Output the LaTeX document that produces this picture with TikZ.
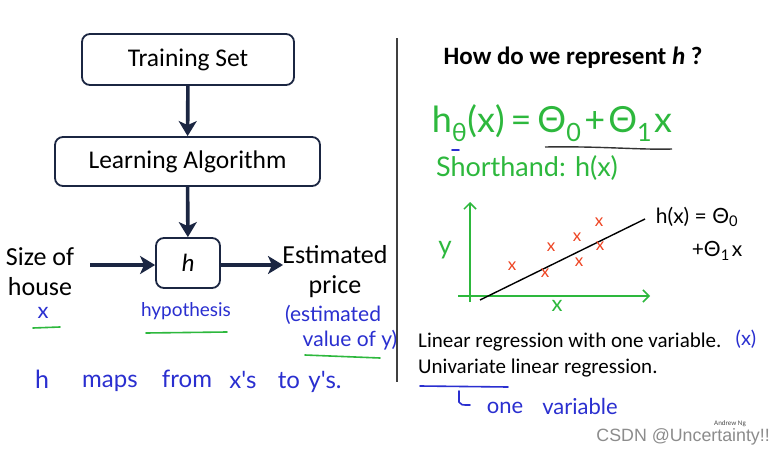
\documentclass[tikz,border=0pt]{standalone}
\usepackage{fontspec}
\setmainfont{Carlito}
\newfontfamily\handfont{Lato}
\newfontfamily\csdnfont{Liberation Sans}
\usetikzlibrary{arrows.meta}
\definecolor{navy}{HTML}{1B2642}
\definecolor{hgreen}{HTML}{2DB83D}
\definecolor{hblue}{HTML}{2A2FD0}
\definecolor{hred}{HTML}{EE4422}
\begin{document}
\begin{tikzpicture}[x=1pt,y=-1pt,
  box/.style={draw=navy, line width=1.8pt, rounded corners=8pt, fill=white, inner sep=0pt, font=\fontsize{25.5}{25.5}\selectfont},
  flow/.style={-{Stealth[length=15pt,width=18pt,inset=4pt]}, line width=3.6pt, draw=navy},
  label/.style={font=\fontsize{26}{30}\selectfont, align=center, inner sep=0pt},
  hand/.style={font=\handfont\fontsize{#1}{#1}\selectfont, inner sep=0pt},
  bluehand/.style={hand=#1, text=hblue},
  greenhand/.style={hand=#1, text=hgreen},
  gline/.style={draw=hgreen, line width=1.6pt, line cap=round},
  bline/.style={draw=hblue, line width=1.6pt, line cap=round},
  axis/.style={draw=hgreen, line width=1.5pt, -{Straight Barb[length=6pt,width=12pt]}},
  crossmark/.style={text=hred, font=\handfont\fontsize{17}{17}\selectfont, inner sep=0pt},
  body/.style={font=\fontsize{21}{21}\selectfont, anchor=west, inner sep=0pt}
]
\useasboundingbox (0,0) rectangle (782,455);
\fill[white] (0,0) rectangle (782,455);

% left flow chart
\node[box, minimum width=212pt, minimum height=51pt] (train) at (188,59.5) {Training Set};
\node[box, minimum width=265pt, minimum height=49pt] (learn) at (187.5,161.5) {Learning Algorithm};
\node[box, minimum width=64pt, minimum height=50pt, font=\fontsize{25}{25}\selectfont\itshape] (h) at (188,263) {h};
\node[label] (size) at (40,272) {Size of\\house};
\node[label] (est) at (335,272) {Estimated\\price};
\coordinate (inL) at (90,265);
\coordinate (outR) at (283,265);
\draw[flow] (train) -- (learn);
\draw[flow] (learn) -- (h);
\draw[flow] (inL) -- (h.west |- inL);
\draw[flow] (h.east |- outR) -- (outR);

% left handwriting
\node[bluehand=22, anchor=base] (xl) at (43,318) {x};
\draw[gline] (33,328) -- (60,327);
\node[bluehand=19] (hyp) at (186,311) {hypothesis};
\draw[gline] (146,333) -- (227,332);
\node[bluehand=21] (est1) at (333,315) {(estimated};
\node[bluehand=21] (est2) at (350,340) {value of y)};
\draw[gline] (305,355) -- (380,358);
\node[bluehand=25] (mh) at (42,379) {h};
\node[bluehand=24] (mmaps) at (110,383) {maps};
\node[bluehand=24] (mfrom) at (187,379) {from};
\node[bluehand=24] (mxs) at (243,380) {x's};
\node[bluehand=24] (mto) at (289,381) {to};
\node[bluehand=24] (mys) at (325,382) {y's.};

% divider
\draw[line width=1.3pt, draw=black!75] (397,38) -- (397,382);

% right side
\node[font=\bfseries\fontsize{25}{25}\selectfont, inner sep=0pt] (title) at (573,58) {How do we represent \textit{h} ?};
\node[greenhand=36] (formula) at (552,123) {h\textsubscript{θ}(x)\hspace{6pt}=\hspace{6pt}Θ\textsubscript{0}\hspace{3pt}+\hspace{3pt}Θ\textsubscript{1}\hspace{2pt}x};
\draw[line width=1.4pt, black!80] (545,147) .. controls (600,146) and (640,150) .. (672,149);
\draw[bline] (452,150) -- (459,150);
\node[greenhand=27] (short) at (527,168) {Shorthand: h(x)};

% graph
\coordinate (yb) at (470,302);
\coordinate (yt) at (470,202);
\coordinate (xa) at (458,296);
\coordinate (xb) at (650,296);
\draw[axis] (yb) -- (yt);
\draw[axis] (xa) -- (xb);
\node[greenhand=26] (ylab) at (445,250) {y};
\node[greenhand=22] (xlab) at (557,306) {x};
\coordinate (l1) at (480,300);
\coordinate (l2) at (645,219);
\draw[line width=1.4pt, black] (l1) -- (l2);
\node[crossmark] (c1) at (512,266) {x};
\node[crossmark] (c2) at (551,247) {x};
\node[crossmark] (c3) at (577,237) {x};
\node[crossmark] (c4) at (600,246) {x};
\node[crossmark] (c5) at (579,262) {x};
\node[crossmark] (c6) at (545,273) {x};
\node[crossmark] (c7) at (599,222) {x};
\node[hand=21, text=black] (hx1) at (697,217) {h(x) = Θ\textsubscript{0}};
\node[hand=21, text=black] (hx2) at (717,251) {+Θ\textsubscript{1}\hspace{2pt}x};

\node[body] (lin1) at (418,342) {Linear regression with one variable.};
\node[bluehand=20] (xpar) at (746,339) {(x)};
\node[body] (lin2) at (418,368) {Univariate linear regression.};
\draw[bline] (420,386) -- (508,387);
\draw[bline] (459,391) -- (459,402) .. controls (461,405) .. (470,405);
\node[bluehand=22] (onev1) at (505,408) {one};
\node[bluehand=22] (onev2) at (580,406) {variable};

\node[font=\fontsize{7}{7}\selectfont, inner sep=0pt, text=black!70] (ng) at (730,424) {Andrew Ng};
\node[font=\csdnfont\fontsize{17.8}{17.8}\selectfont, text=black!45, anchor=east, inner sep=0pt] (csdn) at (770,437) {CSDN @Uncertainty!!};
\end{tikzpicture}
\end{document}
